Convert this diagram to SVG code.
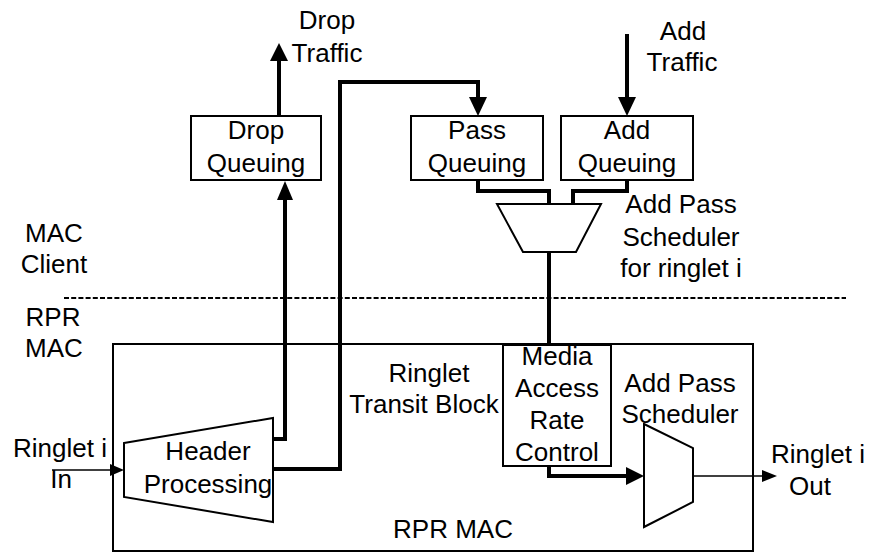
<svg xmlns="http://www.w3.org/2000/svg" width="871" height="552" viewBox="0 0 871 552">
  <style>
    text { font-family: "Liberation Sans", Arial, sans-serif; font-size: 26px; fill: #000; text-anchor: middle; }
    .box { fill: #fff; stroke: #000; stroke-width: 2; }
    .frame { fill: none; stroke: #000; stroke-width: 2; }
    .thick { fill: none; stroke: #000; stroke-width: 4; stroke-linejoin: miter; }
    .thin { fill: none; stroke: #000; stroke-width: 1.6; }
    .head { fill: #000; stroke: none; }
    .divider { stroke: #000; stroke-width: 2; stroke-dasharray: 5 2.2; }
  </style>

  <!-- RPR MAC enclosure -->
  <g id="rpr-mac">
    <rect class="frame" x="113" y="344" width="640" height="207"/>
    <text x="453" y="538">RPR MAC</text>
  </g>

  <!-- client / MAC boundary -->
  <g id="boundary">
    <line class="divider" x1="64" y1="298" x2="846" y2="298"/>
    <text x="54" y="242">MAC</text>
    <text x="54" y="273">Client</text>
    <text x="53" y="326">RPR</text>
    <text x="54" y="357">MAC</text>
  </g>

  <g id="connectors">
    <!-- drop traffic out of drop queue -->
    <line class="thick" x1="279" y1="116" x2="279" y2="60"/>
    <polygon class="head" points="279,43 270,61 288,61"/>
    <!-- header processing to drop queue -->
    <path class="thick" d="M273,439 H285 V199"/>
    <polygon class="head" points="285,181 277,200 293,200"/>
    <!-- header processing to pass queue -->
    <path class="thick" d="M273,469 H340 V82 H478 V97"/>
    <polygon class="head" points="478,116 469,97 487,97"/>
    <!-- add traffic into add queue -->
    <line class="thick" x1="627" y1="34" x2="627" y2="97"/>
    <polygon class="head" points="627,116 618,97 636,97"/>
    <!-- queues into client scheduler -->
    <path class="thick" d="M478,180 V191 H549 V204"/>
    <path class="thick" d="M627,180 V191 H573 V204"/>
    <!-- client scheduler to rate control -->
    <line class="thick" x1="549" y1="252" x2="549" y2="345"/>
    <!-- rate control to transit scheduler -->
    <path class="thick" d="M549,466 V476 H627"/>
    <polygon class="head" points="644,476 626,467 626,485"/>
    <!-- ringlet in -->
    <line class="thin" x1="52" y1="470" x2="111" y2="470"/>
    <polygon class="head" points="124,470 110,464 110,476"/>
    <!-- ringlet out -->
    <line class="thin" x1="693" y1="476" x2="763" y2="476"/>
    <polygon class="head" points="777,476 762,470 762,482"/>
  </g>

  <g id="drop-queuing">
    <rect class="box" x="191" y="116" width="130" height="64"/>
    <text x="256" y="139">Drop</text>
    <text x="256" y="172">Queuing</text>
  </g>

  <g id="drop-traffic">
    <text x="327" y="29">Drop</text>
    <text x="327" y="62">Traffic</text>
  </g>

  <g id="pass-queuing">
    <rect class="box" x="411" y="116" width="132" height="64"/>
    <text x="477" y="139">Pass</text>
    <text x="477" y="172">Queuing</text>
  </g>

  <g id="add-queuing">
    <rect class="box" x="561" y="116" width="132" height="64"/>
    <text x="627" y="139">Add</text>
    <text x="627" y="172">Queuing</text>
  </g>

  <g id="add-traffic">
    <text x="683" y="40">Add</text>
    <text x="682" y="71">Traffic</text>
  </g>

  <g id="client-scheduler">
    <polygon class="box" points="497,204 601,204 576,252 523,252"/>
    <text x="681" y="213">Add Pass</text>
    <text x="681" y="246">Scheduler</text>
    <text x="681" y="277">for ringlet i</text>
  </g>

  <g id="header-processing">
    <polygon class="box" points="124,443 273,418 273,522 124,497"/>
    <text x="208" y="460">Header</text>
    <text x="208" y="493">Processing</text>
  </g>

  <g id="transit-block">
    <text x="429" y="382">Ringlet</text>
    <text x="424" y="413">Transit Block</text>
  </g>

  <g id="rate-control">
    <rect class="box" x="503" y="345" width="108" height="121"/>
    <text x="557" y="365">Media</text>
    <text x="557" y="397">Access</text>
    <text x="557" y="429">Rate</text>
    <text x="557" y="461">Control</text>
  </g>

  <g id="transit-scheduler">
    <polygon class="box" points="644,424 693,448 693,502 644,527"/>
    <text x="680" y="392">Add Pass</text>
    <text x="680" y="423">Scheduler</text>
  </g>

  <g id="ringlet-in">
    <text x="60" y="457">Ringlet i</text>
    <text x="61" y="488">In</text>
  </g>

  <g id="ringlet-out">
    <text x="818" y="463">Ringlet i</text>
    <text x="810" y="495">Out</text>
  </g>
</svg>
